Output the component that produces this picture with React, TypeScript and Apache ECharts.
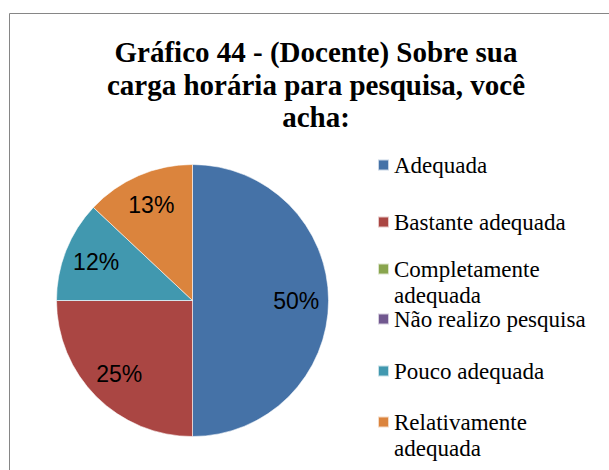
import React, { useEffect, useRef } from "react";
import * as echarts from "echarts";

// ---- data ----
const titleLines = [
  "Gráfico 44 - (Docente) Sobre sua",
  "carga horária para pesquisa, você",
  "acha:",
];
const categories = [
  "Adequada",
  "Bastante adequada",
  "Completamente adequada",
  "Não realizo pesquisa",
  "Pouco adequada",
  "Relativamente adequada",
];
// legend display text (line breaks as in the reference)
const legendTexts = [
  "Adequada",
  "Bastante adequada",
  "Completamente\nadequada",
  "Não realizo pesquisa",
  "Pouco adequada",
  "Relativamente\nadequada",
];
const percentValues = [50, 25, 0, 0, 12, 13];
const colors = ["#4572A7", "#AA4643", "#89A54E", "#71588F", "#4198AF", "#DB843D"];

// ---- layout ----
const W = 609;
const H = 470;
const PIE_CX = 192.5;
const PIE_CY = 300.5;
const PIE_R = 136;
const LEGEND_LEFT = 377;
const LEGEND_ICON = 11;
const LEGEND_CENTERS = [165, 222, 269, 319, 371, 422];
const LEGEND_LINE = 26.5;
const LABEL_RADIUS_RATIO = 0.73;
const SERIF = "serif";
const SERIF2 = "Times New Roman";
const SANS = "Liberation Sans";

export default function App() {
  const ref = useRef<HTMLDivElement>(null);

  useEffect(() => {
    if (!ref.current) return;
    const chart = echarts.init(ref.current, null, { renderer: "svg" });

    const legends = categories.map((name, i) => {
      const multi = legendTexts[i].includes("\n");
      const text = multi ? "\n" + legendTexts[i] : legendTexts[i];
      const half = multi ? 1.5 * LEGEND_LINE : 0.5 * LEGEND_LINE;
      return {
        data: [name],
        left: LEGEND_LEFT,
        top: LEGEND_CENTERS[i] - half,
        padding: 0,
        orient: "vertical",
        itemWidth: LEGEND_ICON,
        itemHeight: LEGEND_ICON,
        icon: "rect",
        selectedMode: false,
        formatter: () => text,
        textStyle: {
          fontFamily: SERIF2,
          fontSize: 23,
          color: "#000",
          lineHeight: LEGEND_LINE,
        },
      };
    });

    const k = LABEL_RADIUS_RATIO / 0.5;

    chart.setOption({
      animation: false,
      color: colors,
      title: {
        text: titleLines.join("\n"),
        left: 311,
        top: 31,
        textAlign: "center",
        textStyle: {
          fontFamily: SERIF,
          fontWeight: "bold",
          fontSize: 29,
          lineHeight: 32.5,
          color: "#000",
        },
      },
      legend: legends,
      graphic: [
        {
          type: "rect",
          shape: { x: 9.5, y: 13.5, width: 700, height: 600 },
          style: { fill: "none", stroke: "#868686", lineWidth: 1 },
          silent: true,
          z: -1,
        },
      ],
      series: [
        {
          type: "pie",
          center: [PIE_CX, PIE_CY],
          radius: [0, PIE_R],
          startAngle: 90,
          clockwise: true,
          avoidLabelOverlap: false,
          itemStyle: { borderColor: "rgba(255,255,255,0.7)", borderWidth: 0.8 },
          label: {
            show: true,
            position: "inside",
            formatter: (p: any) => (p.value > 0 ? `${p.value}%` : ""),
            fontFamily: SANS,
            fontSize: 23,
            color: "#000",
          },
          labelLine: { show: false },
          emphasis: { disabled: true },
          labelLayout: (params: any) => {
            const r = params.labelRect;
            if (!r) return {};
            const lx = r.x + r.width / 2;
            const ly = r.y + r.height / 2;
            return {
              x: PIE_CX + (lx - PIE_CX) * k,
              y: PIE_CY + (ly - PIE_CY) * k,
              align: "center",
              verticalAlign: "middle",
            };
          },
          data: categories.map((name, i) => ({ name, value: percentValues[i] })),
        },
      ],
    });

    return () => chart.dispose();
  }, []);

  return (
    <div
      ref={ref}
      style={{ position: "absolute", left: 0, top: 0, width: W, height: H, background: "#fff" }}
    />
  );
}
